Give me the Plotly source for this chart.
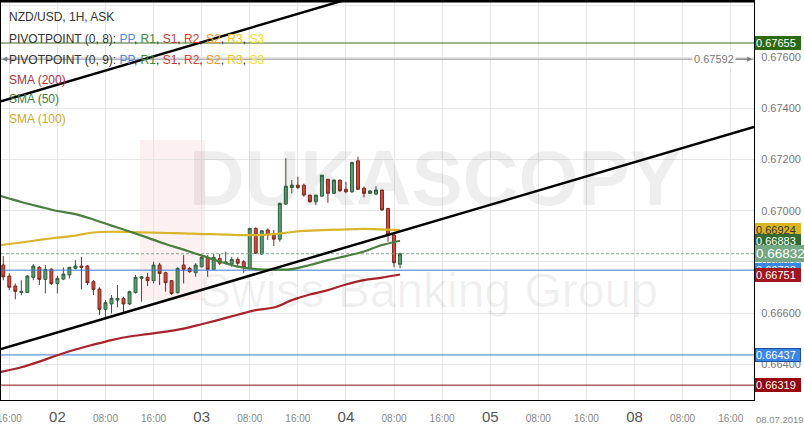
import plotly.graph_objects as go

# ---------------- data ----------------
hours = list(range(-9, 58))  # hours relative to 02.07 00:00 (weekend removed)
opens = [0.66788, 0.66745, 0.66706, 0.66681, 0.66681, 0.66740, 0.66779, 0.66732, 0.66772,
         0.66716, 0.66733, 0.66749, 0.66775, 0.66784, 0.66784, 0.66723, 0.66694, 0.66615,
         0.66636, 0.66651, 0.66658, 0.66636, 0.66680, 0.66736, 0.66740, 0.66727, 0.66788,
         0.66758, 0.66727, 0.66680, 0.66788, 0.66775, 0.66758, 0.66781, 0.66814, 0.66771,
         0.66814, 0.66795, 0.66792, 0.66810, 0.66801, 0.66775, 0.66931, 0.66831, 0.66925,
         0.66905, 0.66889, 0.67026, 0.67091, 0.67100, 0.67100, 0.67061, 0.67035, 0.67057,
         0.67123, 0.67068, 0.67120, 0.67084, 0.67074, 0.67195, 0.67088, 0.67068, 0.67065,
         0.67081, 0.67009, 0.66905, 0.66791]
highs = [0.66823, 0.66755, 0.66716, 0.66729, 0.66749, 0.66792, 0.66784, 0.66788, 0.66775,
         0.66746, 0.66779, 0.66781, 0.66807, 0.66820, 0.66788, 0.66729, 0.66701, 0.66651,
         0.66671, 0.66710, 0.66664, 0.66688, 0.66749, 0.66745, 0.66758, 0.66801, 0.66797,
         0.66762, 0.66729, 0.66779, 0.66827, 0.66781, 0.66795, 0.66827, 0.66827, 0.66831,
         0.66831, 0.66840, 0.66820, 0.66818, 0.66807, 0.66931, 0.66935, 0.66922, 0.66931,
         0.66925, 0.67031, 0.67205, 0.67120, 0.67133, 0.67106, 0.67061, 0.67061, 0.67139,
         0.67123, 0.67120, 0.67120, 0.67113, 0.67192, 0.67211, 0.67094, 0.67081, 0.67096,
         0.67081, 0.67009, 0.66909, 0.66836]
lows = [0.66729, 0.66690, 0.66654, 0.66670, 0.66680, 0.66729, 0.66710, 0.66677, 0.66710,
        0.66677, 0.66729, 0.66736, 0.66771, 0.66693, 0.66710, 0.66671, 0.66593, 0.66576,
        0.66599, 0.66623, 0.66599, 0.66632, 0.66677, 0.66645, 0.66706, 0.66716, 0.66710,
        0.66684, 0.66671, 0.66677, 0.66716, 0.66758, 0.66742, 0.66779, 0.66742, 0.66771,
        0.66788, 0.66791, 0.66781, 0.66784, 0.66758, 0.66771, 0.66831, 0.66827, 0.66886,
        0.66862, 0.66879, 0.67022, 0.67068, 0.67084, 0.67055, 0.67033, 0.67022, 0.67055,
        0.67031, 0.67065, 0.67074, 0.67068, 0.67070, 0.67081, 0.67052, 0.67068, 0.67061,
        0.67000, 0.66879, 0.66779, 0.66775]
closes = [0.66742, 0.66701, 0.66685, 0.66685, 0.66745, 0.66784, 0.66732, 0.66771, 0.66716,
          0.66736, 0.66753, 0.66779, 0.66784, 0.66779, 0.66719, 0.66693, 0.66615, 0.66641,
          0.66658, 0.66658, 0.66636, 0.66684, 0.66740, 0.66742, 0.66727, 0.66788, 0.66755,
          0.66719, 0.66677, 0.66775, 0.66771, 0.66762, 0.66788, 0.66818, 0.66771, 0.66818,
          0.66795, 0.66800, 0.66810, 0.66795, 0.66779, 0.66931, 0.66834, 0.66922, 0.66905,
          0.66889, 0.67029, 0.67096, 0.67100, 0.67091, 0.67061, 0.67035, 0.67061, 0.67139,
          0.67068, 0.67120, 0.67078, 0.67074, 0.67188, 0.67084, 0.67068, 0.67077, 0.67081,
          0.67003, 0.66905, 0.66797, 0.66832]

sma_hours = [-9.4, -6, -3, 0, 3, 6, 9, 12, 15, 18, 21, 24, 27, 30, 33, 36, 39, 42, 45, 48, 51, 54, 57]
sma50 = [0.67057, 0.67034, 0.67016, 0.66999, 0.66987, 0.66966, 0.66942, 0.66919, 0.66895, 0.66870,
         0.66848, 0.66825, 0.66802, 0.66782, 0.66772, 0.66770, 0.66772, 0.66788, 0.66807, 0.66823,
         0.66841, 0.66866, 0.66883]
sma100 = [0.66866, 0.66876, 0.66886, 0.66895, 0.66903, 0.66915, 0.66918, 0.66917, 0.66915, 0.66913,
          0.66912, 0.66909, 0.66908, 0.66905, 0.66905, 0.66909, 0.66917, 0.66922, 0.66925, 0.66927,
          0.66929, 0.66927, 0.66924]
sma200 = [0.66371, 0.66389, 0.66411, 0.66436, 0.66458, 0.66477, 0.66495, 0.66509, 0.66518, 0.66528,
          0.66540, 0.66557, 0.66575, 0.66594, 0.66612, 0.66622, 0.66651, 0.66673, 0.66690, 0.66712,
          0.66729, 0.66739, 0.66751]

trend_x = [-9.38, 115.88]
trend_main = [0.66460, 0.67327]
trend_upper = [0.67427, 0.68294]

level_r1 = 0.67655
level_arrow = 0.67592
level_pp = 0.66768
level_s1 = 0.66437
level_s2 = 0.66319
last_price = 0.66832
sma_labels = [0.66924, 0.66883, 0.66751]

tick_hours = [-8, 0, 8, 16, 24, 32, 40, 48, 56, 64, 72, 80, 88, 96, 104, 112]
tick_labels = ["16:00", "02", "08:00", "16:00", "03", "08:00", "16:00", "04", "08:00",
               "16:00", "05", "08:00", "16:00", "08", "08:00", "16:00"]
day_labels = {"02", "03", "04", "05", "08"}
end_date = "08.07.2019"

X0, X1 = -9.38, 115.88
Y0, Y1 = 0.66261, 0.67819

FONT = "Liberation Sans, Arial, sans-serif"

fig = go.Figure()

# horizontal levels
def hline(y, color, width=1, dash="solid"):
    fig.add_trace(go.Scatter(x=[X0, X1], y=[y, y], mode="lines",
                             line=dict(color=color, width=width, dash=dash),
                             hoverinfo="skip", showlegend=False))

hline(level_r1, "#3d6e1c")
hline(level_arrow, "#8a8a8a")
hline(level_pp, "#3b78d0")
hline(level_s1, "#3b78d0")
hline(level_s2, "#8b1010")
hline(last_price, "#7fa88c", 1, "3px,2px")

# SMAs
fig.add_trace(go.Scatter(x=sma_hours, y=sma200, mode="lines", line=dict(color="#a8232b", width=2.2, shape="spline"),
                         hoverinfo="skip", showlegend=False))
fig.add_trace(go.Scatter(x=sma_hours, y=sma100, mode="lines", line=dict(color="#d8b52a", width=2.2, shape="spline"),
                         hoverinfo="skip", showlegend=False))
fig.add_trace(go.Scatter(x=sma_hours, y=sma50, mode="lines", line=dict(color="#4a7e3e", width=2.2, shape="spline"),
                         hoverinfo="skip", showlegend=False))

# candles
fig.add_trace(go.Candlestick(
    x=hours, open=opens, high=highs, low=lows, close=closes,
    increasing=dict(line=dict(color="#2f5e3c", width=1), fillcolor="#5a9e70"),
    decreasing=dict(line=dict(color="#7a2a22", width=1), fillcolor="#d2483a"),
    whiskerwidth=0, showlegend=False, hoverinfo="skip"))

# trend lines
fig.add_trace(go.Scatter(x=trend_x, y=trend_main, mode="lines", line=dict(color="#000000", width=2.5),
                         hoverinfo="skip", showlegend=False))
fig.add_trace(go.Scatter(x=trend_x, y=trend_upper, mode="lines", line=dict(color="#000000", width=2.5),
                         hoverinfo="skip", showlegend=False))

ticktext = [("<span style='font-size:15px;color:#555555'>%s</span>" % t) if t in day_labels else t
            for t in tick_labels]

fig.update_xaxes(range=[X0, X1], tickmode="array", tickvals=tick_hours, ticktext=ticktext,
                 showgrid=True, gridcolor="#e6e6e6", gridwidth=1, zeroline=False,
                 showline=True, linecolor="#000000", linewidth=1, mirror=True,
                 ticks="", tickfont=dict(family=FONT, size=10, color="#888888"),
                 ticklabelstandoff=9,
                 ticklabeloverflow="allow", automargin=False, rangeslider=dict(visible=False))
fig.update_yaxes(range=[Y0, Y1], side="right", dtick=0.002, tick0=0.664, tickformat=".5f",
                 showgrid=True, gridcolor="#e6e6e6", gridwidth=1, zeroline=False,
                 showline=True, linecolor="#000000", linewidth=1, mirror=True,
                 ticks="", tickfont=dict(family=FONT, size=11, color="#777777"),
                 ticklabelstandoff=4, automargin=False)

ann = []
ann.append(dict(xref="paper", yref="paper", x=0.008, y=1 - 16 / 399, xanchor="left", yanchor="middle",
                text="NZD/USD, 1H, ASK", showarrow=False, font=dict(family=FONT, size=12, color="#333333")))
piv_parts = ("<span style='color:#4a8ae0'>PP</span>, <span style='color:#3a8a3a'>R1</span>, "
             "<span style='color:#c23a30'>S1</span>, <span style='color:#e53a2e'>R2</span>, "
             "<span style='color:#f29420'>S2</span>, <span style='color:#f2c30f'>R3</span>, "
             "<span style='color:#f5e020'>S3</span>")
ann.append(dict(xref="paper", yref="paper", x=0.008, y=1 - 38 / 399, xanchor="left", yanchor="middle",
                text="PIVOTPOINT (0, 8): " + piv_parts, showarrow=False,
                font=dict(family=FONT, size=12, color="#333333")))
ann.append(dict(xref="paper", yref="paper", x=0.008, y=1 - 59 / 399, xanchor="left", yanchor="middle",
                text="PIVOTPOINT (0, 9): " + piv_parts, showarrow=False,
                font=dict(family=FONT, size=12, color="#333333")))
for txt, yy, col in [("SMA (200)", 79, "#b0303a"), ("SMA (50)", 98, "#3f7a3a"), ("SMA (100)", 118, "#d2a81c")]:
    ann.append(dict(xref="paper", yref="paper", x=0.008, y=1 - yy / 399, xanchor="left", yanchor="middle",
                    text=txt, showarrow=False, font=dict(family=FONT, size=12, color=col)))

# arrow line label
ann.append(dict(xref="x", yref="y", x=X1 - 0.3, y=level_arrow, ax=-38, ay=0, text="0.67592",
                showarrow=True, arrowhead=2, arrowsize=1, arrowwidth=1, arrowcolor="#777777",
                bgcolor="#ffffff", font=dict(family=FONT, size=11, color="#777777")))
ann.append(dict(xref="x", yref="y", x=X0 + 0.2, y=level_arrow, ax=8, ay=0, text="",
                showarrow=True, arrowhead=2, arrowsize=1, arrowwidth=1, arrowcolor="#777777"))

# right price boxes
def box(v, bg, fg="#ffffff", size=11, h=12, w=44, border=None):
    ann.append(dict(xref="paper", yref="y", x=1, y=v, xanchor="left", yanchor="middle", xshift=1,
                    text="%.5f" % v, showarrow=False, bgcolor=bg, bordercolor=border or bg, borderwidth=1,
                    borderpad=0, width=w, height=h, align="left",
                    font=dict(family=FONT, size=size, color=fg)))

box(level_r1, "#2c6a12")
box(level_pp, "#3a86e6")
box(sma_labels[2], "#a0151f")
box(sma_labels[0], "#d9b522", fg="#333333")
box(sma_labels[1], "#356b33")
box(last_price, "#73a883", size=13.5, h=15, w=49)
box(level_s1, "#3a86e6", border="#1d4f9a")
box(level_s2, "#98050c")

ann.append(dict(xref="paper", yref="paper", x=1, xshift=26, y=0, yshift=-19, xanchor="center", yanchor="middle",
                text=end_date, showarrow=False, font=dict(family=FONT, size=9.5, color="#888888")))

# watermark text
ann.append(dict(xref="paper", yref="paper", x=(435 - 1) / 753, y=(400 - 178) / 399, xanchor="center",
                yanchor="middle", text="<b>DUKASCOPY</b>", showarrow=False,
                font=dict(family="Liberation Sans, Arial, sans-serif", size=77, color="rgba(0,0,0,0.065)")))
ann.append(dict(xref="paper", yref="paper", x=(428 - 1) / 753, y=(400 - 290) / 399, xanchor="center",
                yanchor="middle", text="Swiss Banking Group", showarrow=False,
                font=dict(family="Liberation Sans, Arial, sans-serif", size=48, color="rgba(0,0,0,0.06)")))

shapes = [
    dict(type="rect", xref="paper", yref="paper", x0=(140 - 1) / 753, x1=(205 - 1) / 753,
         y0=(400 - 300) / 399, y1=(400 - 140) / 399, fillcolor="rgba(220,40,40,0.07)", line=dict(width=0),
         layer="below"),
    dict(type="line", xref="paper", yref="paper", x0=0, x1=1, y0=1, y1=1, line=dict(color="#000000", width=3)),
]

fig.update_layout(width=804, height=429, margin=dict(l=1, r=50, t=1, b=29),
                  paper_bgcolor="#ffffff", plot_bgcolor="#ffffff", showlegend=False,
                  annotations=ann, shapes=shapes, font=dict(family=FONT))

fig.write_html("out.html", config={"displayModeBar": False},
               post_script="document.body.style.margin='0';document.body.style.overflow='hidden';")
